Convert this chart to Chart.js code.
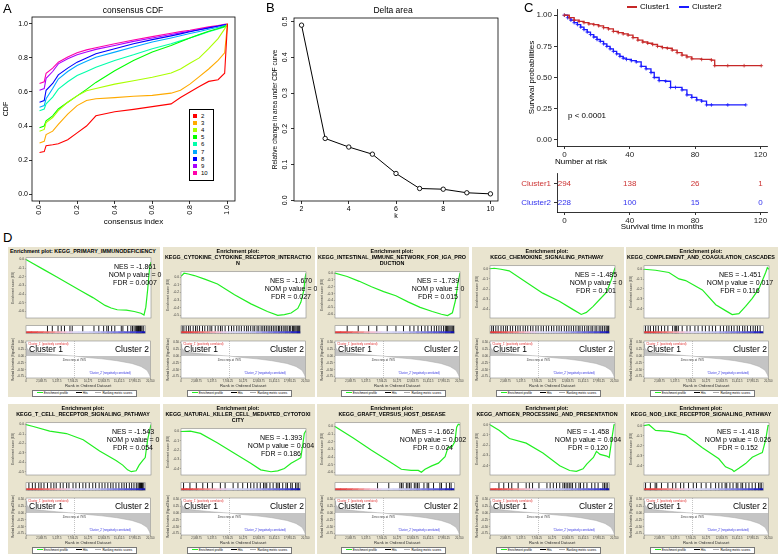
<!DOCTYPE html>
<html>
<head>
<meta charset="utf-8">
<title>Consensus clustering, survival and GSEA</title>
<script src="https://cdn.jsdelivr.net/npm/chart.js@4.4.1/dist/chart.umd.min.js"></script>
<style>
  body { margin: 0; width: 778px; height: 555px; position: relative; overflow: hidden; background: #fff;
         font-family: "Liberation Sans", Arial, sans-serif; color: #000; }
  .t { position: absolute; white-space: nowrap; line-height: 1; }
  .gs { position: absolute; background: #e9e4cf; }
  .gt { position: absolute; width: 152px; text-align: center; font-size: 5.4px; font-weight: bold; line-height: 6px; white-space: nowrap; }
  .lg { position: absolute; background: #fff; border: 0.5px solid #777; display: flex; align-items: center;
        justify-content: space-around; font-size: 3px; line-height: 1; white-space: nowrap; }
  .lg i { display: inline-block; width: 6px; height: 0; border-top: 0.8px solid; vertical-align: middle; margin-right: 1px; }
  canvas { position: absolute; }
</style>
</head>
<body>
<script>
// A: consensus CDF
const cdfIndex = [0, 0.025, 0.035, 0.07, 0.1, 0.15, 0.2, 0.25, 0.3, 0.4, 0.5, 0.6, 0.7, 0.75, 0.8, 0.85, 0.9, 0.95, 0.985, 1.0];
const cdfK = ['2', '3', '4', '5', '6', '7', '8', '9', '10'];
const cdf2 = [0.245,0.25,0.285,0.29,0.296,0.32,0.36,0.40,0.46,0.484,0.498,0.514,0.53,0.567,0.6,0.632,0.662,0.672,0.71,1.0];
const cdf3 = [0.30,0.31,0.35,0.37,0.41,0.47,0.52,0.55,0.56,0.567,0.575,0.58,0.593,0.61,0.646,0.69,0.735,0.785,0.83,1.0];
const cdf4 = [0.37,0.38,0.42,0.45,0.49,0.54,0.577,0.607,0.62,0.646,0.666,0.686,0.711,0.735,0.769,0.80,0.854,0.913,0.97,1.0];
const cdf5 = [0.39,0.40,0.43,0.46,0.50,0.54,0.577,0.615,0.656,0.725,0.785,0.834,0.873,0.895,0.917,0.937,0.956,0.972,0.985,0.99];
const cdf6 = [0.49,0.50,0.53,0.57,0.617,0.66,0.696,0.72,0.745,0.785,0.818,0.854,0.883,0.9,0.917,0.935,0.953,0.97,0.982,0.986];
const cdf7 = [0.51,0.52,0.56,0.62,0.676,0.72,0.755,0.78,0.804,0.834,0.864,0.893,0.917,0.93,0.943,0.955,0.968,0.98,0.99,0.992];
const cdf8 = [0.54,0.55,0.61,0.65,0.70,0.74,0.775,0.80,0.824,0.854,0.883,0.907,0.929,0.941,0.953,0.965,0.976,0.987,0.994,0.996];
const cdf9 = [0.61,0.62,0.68,0.72,0.765,0.795,0.818,0.835,0.85,0.873,0.897,0.917,0.937,0.947,0.956,0.966,0.976,0.986,0.994,0.996];
const cdf10 = [0.65,0.66,0.71,0.74,0.775,0.805,0.83,0.847,0.86,0.883,0.905,0.925,0.945,0.954,0.962,0.972,0.982,0.99,0.997,1.0];
const cdfColors = ['#ff0000','#ffaa00','#aaff00','#00ff00','#00ffaa','#00aaff','#0000ff','#aa00ff','#ff00aa'];

// B: delta area
const deltaK = [2, 3, 4, 5, 6, 7, 8, 9, 10];
const deltaArea = [0.49, 0.173, 0.149, 0.129, 0.075, 0.033, 0.031, 0.021, 0.018];

// C: survival
const kmTime1 = [0,3,6,9,12,15,18,21,24,27,30,33,36,39,42,45,48,51,54,57,60,63,66,69,72,75,78,84,90,92,100,110,120.5];
const kmSurv1 = [1,0.98,0.96,0.95,0.94,0.93,0.925,0.915,0.90,0.89,0.87,0.86,0.85,0.84,0.82,0.80,0.785,0.775,0.765,0.75,0.74,0.735,0.72,0.70,0.68,0.665,0.65,0.645,0.64,0.595,0.595,0.595,0.595];
const kmTime2 = [0,2,4,6,8,10,12,14,16,18,20,22,24,26,28,30,32,34,36,38,41,44,47,50,53,55,58,62,65,68,72,75,78,81,84,87,90,100,111];
const kmSurv2 = [1,0.98,0.96,0.94,0.925,0.905,0.885,0.865,0.845,0.825,0.805,0.79,0.77,0.75,0.73,0.71,0.69,0.67,0.655,0.645,0.635,0.625,0.59,0.57,0.54,0.50,0.475,0.47,0.42,0.42,0.40,0.36,0.34,0.32,0.31,0.28,0.28,0.28,0.28];
const riskTimes = [0, 40, 80, 120];
const riskCluster1 = [294, 138, 26, 1];
const riskCluster2 = [228, 100, 15, 0];

// D: GSEA (ranks in thousands)
const gsTitles = [
  ['Enrichment plot: KEGG_PRIMARY_IMMUNODEFICIENCY'],
  ['Enrichment plot:', 'KEGG_CYTOKINE_CYTOKINE_RECEPTOR_INTERACTIO', 'N'],
  ['Enrichment plot:', 'KEGG_INTESTINAL_IMMUNE_NETWORK_FOR_IGA_PRO', 'DUCTION'],
  ['Enrichment plot:', 'KEGG_CHEMOKINE_SIGNALING_PATHWAY'],
  ['Enrichment plot:', 'KEGG_COMPLEMENT_AND_COAGULATION_CASCADES'],
  ['Enrichment plot:', 'KEGG_T_CELL_RECEPTOR_SIGNALING_PATHWAY'],
  ['Enrichment plot:', 'KEGG_NATURAL_KILLER_CELL_MEDIATED_CYTOTOXI', 'CITY'],
  ['Enrichment plot:', 'KEGG_GRAFT_VERSUS_HOST_DISEASE'],
  ['Enrichment plot:', 'KEGG_ANTIGEN_PROCESSING_AND_PRESENTATION'],
  ['Enrichment plot:', 'KEGG_NOD_LIKE_RECEPTOR_SIGNALING_PATHWAY']
];
const gsNES = ['-1.861','-1.670','-1.739','-1.485','-1.451','-1.543','-1.393','-1.662','-1.458','-1.418'];
const gsNomP = ['0','0','0','0','0.017','0','0.004','0.002','0.004','0.026'];
const gsFDR = ['0.0007','0.027','0.015','0.101','0.116','0.054','0.186','0.024','0.120','0.152'];

const esRank1 = [0,1,3,5,7,9,11,13,14,15,16.5,17.8,18.9,19.4,19.7,20.0,20.3,20.55];
const esScore1 = [0,-0.04,-0.12,-0.2,-0.28,-0.36,-0.44,-0.53,-0.56,-0.58,-0.585,-0.6,-0.62,-0.64,-0.55,-0.35,-0.11,-0.03];
const esRank2 = [0,0.5,1.2,2.2,4,6,8.8,11.5,14.2,15.9,17,18.1,19.2,19.7,20.2,20.4,20.55];
const esScore2 = [0.01,0.05,0.04,0.02,-0.03,-0.09,-0.23,-0.35,-0.45,-0.5,-0.49,-0.47,-0.41,-0.33,-0.17,-0.01,0.05];
const esRank3 = [0,2,4,6,8,10,12,14,16,17.5,18.5,19.3,19.8,20.2,20.55];
const esScore3 = [0,-0.05,-0.12,-0.2,-0.27,-0.33,-0.42,-0.5,-0.56,-0.6,-0.62,-0.58,-0.4,-0.15,0.0];
const esRank4 = [0,0.7,1.8,3.15,5.9,8.67,11.4,13.6,14.75,15.0,15.85,16.96,18.06,19.17,20.0,20.55];
const esScore4 = [0,0.005,-0.005,-0.02,-0.13,-0.24,-0.32,-0.40,-0.44,-0.45,-0.43,-0.37,-0.30,-0.23,-0.10,0.01];
const esRank5 = [0,1.9,4.1,5.75,6.85,9.6,11.8,13.4,14.5,15.6,16.7,17.8,18.9,20.0,20.28,20.55];
const esScore5 = [0,-0.01,-0.033,-0.098,-0.115,-0.21,-0.36,-0.42,-0.46,-0.45,-0.377,-0.295,-0.197,-0.033,0.016,0.0];
const esRank6 = [0,1.2,3.9,6.65,9.4,12.1,14.8,15.9,16.7,17.3,18.1,18.6,19.2,19.6,20.0,20.4,20.55];
const esScore6 = [0,-0.02,-0.07,-0.095,-0.16,-0.28,-0.38,-0.43,-0.48,-0.5,-0.49,-0.43,-0.38,-0.35,-0.16,-0.04,0.0];
const esRank7 = [0,1.54,3.2,5.95,8.7,11.46,13.1,14.8,15.9,17.0,18.1,19.2,19.7,20.0,20.27,20.55];
const esScore7 = [0,0.005,-0.02,-0.12,-0.23,-0.34,-0.41,-0.43,-0.42,-0.395,-0.34,-0.3,-0.28,-0.15,-0.02,0.01];
const esRank8 = [0,3,6,9,10.9,12.5,13.7,14.2,14.8,15.9,17.0,18.1,18.6,19.2,19.7,20.0,20.27,20.55];
const esScore8 = [0,-0.15,-0.31,-0.46,-0.56,-0.575,-0.575,-0.6,-0.56,-0.515,-0.48,-0.395,-0.27,-0.27,-0.2,-0.01,0.03,0.02];
const esRank9 = [0,1.54,3.2,5.95,8.7,11.46,13.1,14.2,15.3,15.9,17.0,17.5,18.1,19.2,19.6,20.0,20.38,20.55];
const esScore9 = [0,-0.056,-0.134,-0.18,-0.275,-0.4,-0.447,-0.456,-0.43,-0.384,-0.32,-0.26,-0.29,-0.306,-0.32,-0.15,0.0,0.0];
const esRank10 = [0,0.82,1.9,4.1,6.85,9.6,12.3,13.4,14.5,14.8,15.6,16.7,17.8,18.9,19.45,20.0,20.39,20.55];
const esScore10 = [0,0.01,-0.047,-0.057,-0.094,-0.22,-0.33,-0.41,-0.44,-0.457,-0.425,-0.378,-0.315,-0.283,-0.268,-0.142,0.0,0.0];

const hits1 = [3.70,4.53,5.52,6.08,6.63,7.57,7.96,9.78,11.71,12.54,13.37,13.92,14.2,14.75,15.3,16.41,16.69,17.51,18.07,18.34,18.62,18.9,19.06,19.17,19.28,19.39,19.5,19.61,19.72,19.83,20.0,20.28];
const hits2 = [0.2,0.5,0.9,1.3,1.6,2.1,2.5,2.8,3.2,3.7,4.1,4.6,5.0,5.3,5.9,6.4,6.8,7.1,7.6,8.2,8.7,9.1,9.6,10.0,10.4,10.9,11.3,11.6,12.0,12.4,12.7,13.1,13.4,13.8,14.1,14.4,14.7,15.0,15.3,15.6,15.9,16.2,16.5,16.8,17.0,17.3,17.6,17.9,18.1,18.4,18.7,18.9,19.2,19.4,19.6,19.8,20.0,20.15,20.3,20.45];
const hits3 = [2.1,4.0,5.8,7.2,9.0,10.5,11.8,12.9,13.6,14.3,14.9,15.5,16.0,16.6,17.1,17.5,17.9,18.3,18.7,19.0,19.2,19.4,19.6,19.8,20.0,20.2,20.4];
const hits4 = [0.3,0.6,1.0,1.4,1.9,2.3,2.7,3.0,3.5,3.9,4.4,4.8,5.2,5.7,6.1,6.5,7.0,7.4,7.9,8.3,8.8,9.2,9.7,10.1,10.6,11.0,11.5,11.9,12.3,12.8,13.2,13.6,14.0,14.4,14.8,15.2,15.5,15.9,16.3,16.7,17.0,17.4,17.7,18.1,18.4,18.8,19.1,19.4,19.7,20.0,20.2,20.4];
const hits5 = [0.27,0.71,1.10,1.64,2.03,2.47,3.01,3.56,4.11,4.93,5.32,5.48,5.64,5.92,6.58,7.40,7.95,8.77,9.32,10.03,10.58,11.23,11.78,12.33,13.15,13.70,14.25,14.63,15.07,15.51,16.06,16.44,16.99,17.37,17.81,18.36,18.80,19.18,19.56,20.0];
const hits6 = [0.5,1.1,1.6,2.2,2.6,3.1,3.7,4.3,4.8,5.2,5.9,6.4,7.0,7.4,8.1,8.6,9.2,9.8,10.3,10.9,11.5,12.0,12.6,13.1,13.6,14.1,14.6,15.0,15.5,16.0,16.5,16.9,17.3,17.8,18.2,18.6,19.0,19.3,19.5,19.6,19.7,19.8,19.9,20.0,20.1,20.3];
const hits7 = [0.44,1.54,2.64,3.75,4.57,5.40,6.78,7.60,8.98,9.81,10.63,11.46,12.01,12.56,13.11,13.66,14.22,14.49,14.77,15.32,15.87,16.42,16.70,16.97,17.52,18.07,18.35,18.90,19.17,19.73,20.0,20.28];
const hits8 = [7.33,9.26,11.18,11.46,11.73,12.29,12.56,12.84,13.11,13.66,13.94,14.21,14.49,15.32,15.87,16.14,16.97,18.07,18.35,19.17,19.72,20.0];
const hits9 = [1.54,2.37,3.20,3.75,4.85,6.23,6.78,7.33,8.43,9.81,10.36,10.91,11.46,12.01,12.56,12.84,13.11,13.39,13.66,13.94,14.22,14.77,15.32,15.59,16.14,16.70,17.52,18.07,18.62,19.45,19.73,20.0,20.28];
const hits10 = [0.27,1.10,1.92,2.19,3.01,4.11,4.93,5.48,6.30,6.85,7.67,8.49,9.04,9.86,10.69,11.51,12.33,12.88,13.43,13.98,14.25,14.80,15.34,15.89,16.17,16.71,16.99,17.54,18.08,18.63,19.18,19.73,20.0,20.28];

const rankedPos = [0,0.1,0.5,1.5,3,5,7,7.97,10,12.5,15,17.5,19,20,20.4,20.55];
const rankedMetric = [0.45,0.3,0.2,0.13,0.09,0.05,0.015,0,-0.05,-0.1,-0.17,-0.27,-0.38,-0.52,-0.68,-0.78];
const zeroCross = 7.97;
const barCenters = [0.5,1.5,2.5,3.5,4.5,5.5,6.5,7.5,8.5,9.5,10.5,11.5,12.5,13.5,14.5,15.5,16.5,17.5,18.5,19.5,20.5];
const barColors = ['#e33b3b','#e54545','#e85858','#ec7272','#ef8d8d','#f2a9b4','#f1bfd3','#e4cbeb','#dcd6f3','#d6d6f4','#d0d0f3','#c9c9f1','#bdbdef','#a9a9eb','#9494e7','#8080e3','#6d6dde','#5a5ad9','#4646d2','#2a2ac6','#1212ae'];

const RANK_MAX = 20550;
const RED = '#c62828', BLUE = '#1a1aff';

Chart.defaults.font.family = '"Liberation Sans", Arial, sans-serif';
Chart.defaults.color = '#000';

// fills / outlines the plot area
const framePlugin = {
  id: 'frame',
  beforeDraw(chart, args, o) {
    if (!o || !o.fill) return;
    const a = chart.chartArea, ctx = chart.ctx;
    ctx.save(); ctx.fillStyle = o.fill;
    ctx.fillRect(a.left, a.top, a.right - a.left, a.bottom - a.top);
    ctx.restore();
  },
  afterDraw(chart, args, o) {
    if (!o || !o.stroke) return;
    const a = chart.chartArea, ctx = chart.ctx;
    ctx.save(); ctx.strokeStyle = o.stroke; ctx.lineWidth = o.width || 1;
    ctx.strokeRect(a.left, a.top, a.right - a.left, a.bottom - a.top);
    ctx.restore();
  }
};

// writes the numbers at risk at each point of the table
const riskPlugin = {
  id: 'riskText',
  afterDatasetsDraw(chart) {
    const ctx = chart.ctx;
    ctx.save();
    ctx.font = '8px "Liberation Sans", Arial, sans-serif';
    ctx.textAlign = 'center'; ctx.textBaseline = 'middle';
    chart.data.datasets.forEach((ds, i) => {
      ctx.fillStyle = ds.textColor;
      chart.getDatasetMeta(i).data.forEach((pt, j) => ctx.fillText(String(ds.data[j].n), pt.x, pt.y));
    });
    ctx.restore();
  }
};

function makeCanvas(x, y, w, h, m) {
  const c = document.createElement('canvas');
  const cw = m.l + w + m.r, ch = m.t + h + m.b;
  c.width = cw; c.height = ch;
  c.style.left = (x - m.l) + 'px'; c.style.top = (y - m.t) + 'px';
  c.style.width = cw + 'px'; c.style.height = ch + 'px';
  document.body.appendChild(c);
  return c;
}

function opts(o) {
  const plugins = Object.assign({ legend: { display: false }, tooltip: { enabled: false } }, o.plugins || {});
  return Object.assign({ responsive: false, animation: false, events: [] }, o, { plugins });
}

function txt(s, x, y, css, anchor) {
  const d = document.createElement('div');
  d.className = 't';
  d.textContent = s;
  const tr = anchor === 'l' ? 'translate(0,-50%)' : anchor === 'r' ? 'translate(-100%,-50%)' : 'translate(-50%,-50%)';
  d.style.cssText = 'left:' + x + 'px;top:' + y + 'px;transform:' + tr + ';' + (css || '');
  document.body.appendChild(d);
  return d;
}

const rTicks = { drawOnChartArea: false, tickLength: 3, color: '#000', lineWidth: 0.8 };

// ---------- A ----------
const cdfSeries = [cdf2, cdf3, cdf4, cdf5, cdf6, cdf7, cdf8, cdf9, cdf10];
new Chart(makeCanvas(32, 17, 203, 184, { l: 32, t: 17, r: 8, b: 27 }), {
  type: 'scatter',
  data: {
    datasets: cdfSeries.map((s, i) => ({
      label: cdfK[i], data: cdfIndex.map((x, j) => ({ x, y: s[j] })),
      showLine: true, borderColor: cdfColors[i], borderWidth: 1.1, pointRadius: 0
    }))
  },
  options: opts({
    layout: { padding: { top: 17, right: 8, left: 0, bottom: 0 } },
    scales: {
      x: { min: -0.04, max: 1.04, afterFit: s => { s.height = 27; },
           ticks: { stepSize: 0.2, includeBounds: false, minRotation: 90, maxRotation: 90, padding: 1, font: { size: 7 }, callback: v => v.toFixed(1) },
           grid: rTicks, border: { display: false },
           title: { display: true, text: 'consensus index', font: { size: 8 }, padding: { top: 0, bottom: 1 } } },
      y: { min: -0.04, max: 1.04, afterFit: s => { s.width = 32; },
           ticks: { stepSize: 0.2, includeBounds: false, padding: 1, font: { size: 7 }, callback: v => v.toFixed(1) },
           grid: rTicks, border: { display: false },
           title: { display: true, text: 'CDF', font: { size: 7 }, padding: { top: 2, bottom: 0 } } }
    },
    plugins: { frame: { stroke: '#000', width: 0.8 } }
  }),
  plugins: [framePlugin]
});
txt('A', 3, 8, 'font-size:13px', 'l');
txt('consensus CDF', 133, 9.5, 'font-size:8.5px');
const lgA = document.createElement('div');
lgA.style.cssText = 'position:absolute;left:189px;top:109px;width:23px;height:70px;border:0.8px solid #000;background:#fff';
document.body.appendChild(lgA);
cdfK.forEach((k, i) => {
  const y = 116 + i * 7.1;
  const sq = document.createElement('div');
  sq.style.cssText = 'position:absolute;left:193px;top:' + (y - 2) + 'px;width:4px;height:4px;background:' + cdfColors[i];
  document.body.appendChild(sq);
  txt(k, 201, y, 'font-size:6px', 'l');
});

// ---------- B ----------
new Chart(makeCanvas(294, 18, 204, 183, { l: 26, t: 6, r: 6, b: 21 }), {
  type: 'scatter',
  data: {
    datasets: [{
      data: deltaK.map((k, i) => ({ x: k, y: deltaArea[i] })), showLine: true,
      borderColor: '#000', borderWidth: 1, pointRadius: 2.2, pointBackgroundColor: '#fff', pointBorderColor: '#000', pointBorderWidth: 0.9
    }]
  },
  options: opts({
    layout: { padding: { top: 6, right: 6, left: 0, bottom: 0 } },
    scales: {
      x: { min: 1.68, max: 10.32, afterFit: s => { s.height = 21; },
           ticks: { stepSize: 2, includeBounds: false, padding: 1, font: { size: 7 } },
           grid: rTicks, border: { display: false },
           title: { display: true, text: 'k', font: { size: 7 }, padding: { top: 0, bottom: 2 } } },
      y: { min: -0.002, max: 0.51, afterFit: s => { s.width = 26; },
           ticks: { stepSize: 0.1, includeBounds: false, minRotation: 90, maxRotation: 90, crossAlign: 'center', padding: 1, font: { size: 7 }, callback: v => v.toFixed(1) },
           grid: rTicks, border: { display: false },
           title: { display: true, text: 'Relative change in area under CDF curve', font: { size: 6.5 }, padding: { top: 3, bottom: 0 } } }
    },
    plugins: { frame: { stroke: '#000', width: 0.8 } }
  }),
  plugins: [framePlugin]
});
txt('B', 266, 7, 'font-size:13px', 'l');
txt('Delta area', 393, 9.5, 'font-size:8.5px');

// ---------- C ----------
const kmAxis = { grid: { drawOnChartArea: false, tickLength: 3, color: '#000', lineWidth: 0.8 }, border: { color: '#000', width: 0.8 } };
new Chart(makeCanvas(557, 9, 210, 137, { l: 37, t: 9, r: 11, b: 14 }), {
  type: 'scatter',
  data: {
    datasets: [
      { label: 'Cluster1', data: kmTime1.map((t, i) => ({ x: t, y: kmSurv1[i] })), showLine: true, stepped: true,
        borderColor: RED, borderWidth: 1.3, pointStyle: 'cross', pointRadius: 1.8, pointBorderWidth: 0.8 },
      { label: 'Cluster2', data: kmTime2.map((t, i) => ({ x: t, y: kmSurv2[i] })), showLine: true, stepped: true,
        borderColor: BLUE, borderWidth: 1.3, pointStyle: 'cross', pointRadius: 1.8, pointBorderWidth: 0.8 }
    ]
  },
  options: opts({
    layout: { padding: { top: 9, right: 11, left: 0, bottom: 0 } },
    scales: {
      x: Object.assign({ min: -4.5, max: 124, afterFit: s => { s.height = 14; },
           ticks: { stepSize: 40, includeBounds: false, padding: 1, font: { size: 8 }, color: '#222' } }, kmAxis),
      y: Object.assign({ min: -0.05, max: 1.05, afterFit: s => { s.width = 37; },
           ticks: { stepSize: 0.25, includeBounds: false, padding: 2, font: { size: 8 }, color: '#222', callback: v => v.toFixed(2) },
           title: { display: true, text: 'Survival probabilities', font: { size: 8 }, padding: { top: 7, bottom: 0 } } }, kmAxis)
    }
  })
});
new Chart(makeCanvas(557, 168, 210, 44, { l: 67, t: 2, r: 11, b: 21 }), {
  type: 'scatter',
  data: {
    datasets: [
      { data: riskTimes.map((t, j) => ({ x: t, y: 'Cluster1', n: riskCluster1[j] })), pointRadius: 0, textColor: '#cc3333' },
      { data: riskTimes.map((t, j) => ({ x: t, y: 'Cluster2', n: riskCluster2[j] })), pointRadius: 0, textColor: '#3333ee' }
    ]
  },
  options: opts({
    layout: { padding: { top: 2, right: 11, left: 0, bottom: 0 } },
    scales: {
      x: Object.assign({ min: -4.5, max: 124, afterFit: s => { s.height = 21; },
           ticks: { stepSize: 40, includeBounds: false, padding: 1, font: { size: 8 }, color: '#222' },
           title: { display: true, text: 'Survival time in months', font: { size: 8 }, padding: { top: 0, bottom: 1 } } }, kmAxis),
      y: Object.assign({ type: 'category', labels: ['Cluster1', 'Cluster2'], offset: true, afterFit: s => { s.width = 67; },
           ticks: { padding: 3, font: { size: 8 }, color: c => c.index === 0 ? '#cc3333' : '#3333ee' } }, kmAxis)
    }
  }),
  plugins: [riskPlugin]
});
txt('C', 524, 7, 'font-size:13px', 'l');
txt('p < 0.0001', 568, 116, 'font-size:8px', 'l');
txt('Number at risk', 555, 162, 'font-size:8px', 'l');
[['Cluster1', RED, 627], ['Cluster2', BLUE, 679]].forEach(([name, col, x]) => {
  const sw = document.createElement('div');
  sw.style.cssText = 'position:absolute;left:' + x + 'px;top:5.5px;width:10px;height:2.5px;background:' + col;
  document.body.appendChild(sw);
  txt(name, x + 13, 7, 'font-size:8px', 'l');
});

// ---------- D ----------
txt('D', 3, 237, 'font-size:13px', 'l');
const esRanks = [esRank1, esRank2, esRank3, esRank4, esRank5, esRank6, esRank7, esRank8, esRank9, esRank10];
const esScores = [esScore1, esScore2, esScore3, esScore4, esScore5, esScore6, esScore7, esScore8, esScore9, esScore10];
const hitSets = [hits1, hits2, hits3, hits4, hits5, hits6, hits7, hits8, hits9, hits10];
const nesOffset = [109, 110, 103, 106, 96, 107, 100, 98, 98, 94];
const tiny = { drawOnChartArea: false, tickLength: 1.2, color: '#555', lineWidth: 0.4 };

for (let i = 0; i < 10; i++) {
  const row = Math.floor(i / 5), col = i % 5;
  const L = Math.round(8 + col * 154.5), T = row * 157;
  const bg = document.createElement('div');
  bg.className = 'gs';
  bg.style.cssText = 'left:' + L + 'px;top:' + (T + 247) + 'px;width:152px;height:150px';
  document.body.appendChild(bg);

  const lines = gsTitles[i];
  const tt = document.createElement('div');
  tt.className = 'gt';
  tt.style.left = (L - 1) + 'px'; tt.style.top = (T + 248) + 'px';
  tt.innerHTML = lines.join('<br>');
  document.body.appendChild(tt);
  const esTop = T + [0, 257, 265, 271][lines.length];
  const esBot = T + 318;

  // running enrichment score
  const sc = esScores[i];
  new Chart(makeCanvas(L + 18, esTop, 125, esBot - esTop, { l: 18, t: 2.5, r: 4, b: 4 }), {
    type: 'scatter',
    data: { datasets: [{ data: esRanks[i].map((r, j) => ({ x: r * 1000, y: sc[j] })), showLine: true, borderColor: '#22ee22', borderWidth: 1.2, pointRadius: 0 }] },
    options: opts({
      layout: { padding: { top: 2.5, right: 4, left: 0, bottom: 4 } },
      scales: {
        x: { type: 'linear', display: false, min: 0, max: RANK_MAX },
        y: { min: Math.min(...sc) - 0.035, max: Math.max(...sc) + 0.02, afterFit: s => { s.width = 18; },
             ticks: { stepSize: 0.1, includeBounds: false, padding: 0.8, font: { size: 3.2 }, color: '#333', callback: v => v.toFixed(1) },
             grid: tiny, border: { display: false },
             title: { display: true, text: 'Enrichment score (ES)', font: { size: 3.2 }, color: '#333', padding: { top: 3, bottom: 0 } } }
      },
      plugins: { frame: { fill: '#fff', stroke: '#8a8a8a', width: 0.6 } }
    }),
    plugins: [framePlugin]
  });

  // hits + ranked list colour bar
  new Chart(makeCanvas(L + 18, esBot, 125, 23, { l: 18, t: 2, r: 4, b: 2 }), {
    type: 'scatter',
    data: {
      datasets: [
        { type: 'bar', data: barCenters.map(r => ({ x: r * 1000, y: [0, 5] })), backgroundColor: barColors,
          barPercentage: 1, categoryPercentage: 1, borderWidth: 0 },
        { data: hitSets[i].map(r => ({ x: r * 1000, y: 14 })), pointStyle: 'line', pointRotation: 90, pointRadius: 8.8,
          borderColor: '#000', pointBorderColor: '#000', pointBorderWidth: 0.9 }
      ]
    },
    options: opts({
      layout: { padding: { top: 2, right: 4, left: 18, bottom: 2 } },
      scales: {
        x: { type: 'linear', display: false, min: 0, max: RANK_MAX, offset: false },
        y: { display: false, min: 0, max: 23 }
      },
      plugins: { frame: { fill: '#fff', stroke: '#8a8a8a', width: 0.6 } }
    }),
    plugins: [framePlugin]
  });

  // ranked list metric
  new Chart(makeCanvas(L + 18, T + 341, 125, 37, { l: 18, t: 3, r: 4, b: 11 }), {
    type: 'scatter',
    data: {
      datasets: [
        { data: rankedPos.map((r, j) => ({ x: r * 1000, y: rankedMetric[j] })), showLine: true, fill: 'origin',
          backgroundColor: '#c4c4c4', borderColor: '#a8a8a8', borderWidth: 0.5, pointRadius: 0 },
        { data: [{ x: zeroCross * 1000, y: -0.8 }, { x: zeroCross * 1000, y: 0.55 }], showLine: true,
          borderColor: '#888', borderDash: [1, 1], borderWidth: 0.5, pointRadius: 0 }
      ]
    },
    options: opts({
      layout: { padding: { top: 3, right: 4, left: 0, bottom: 0 } },
      scales: {
        x: { type: 'linear', min: 0, max: RANK_MAX, afterFit: s => { s.height = 11; },
             ticks: { stepSize: 2500, includeBounds: false, autoSkip: false, maxRotation: 0, padding: 0.5, font: { size: 2.7 }, color: '#333',
                      callback: v => v.toLocaleString('en-US') },
             grid: tiny, border: { display: false },
             title: { display: true, text: 'Rank in Ordered Dataset', font: { size: 4.2 }, color: '#333', padding: { top: 0, bottom: 0.5 } } },
        y: { min: -0.8, max: 0.55, afterFit: s => { s.width = 18; },
             ticks: { stepSize: 0.25, includeBounds: false, padding: 0.8, font: { size: 3 }, color: '#333', callback: v => v.toFixed(2) },
             grid: tiny, border: { display: false },
             title: { display: true, text: 'Ranked list metric (Signal2Noise)', font: { size: 2.9 }, color: '#333', padding: { top: 3, bottom: 0 } } }
      },
      plugins: { frame: { fill: '#fff', stroke: '#8a8a8a', width: 0.6 } }
    }),
    plugins: [framePlugin]
  });

  const cx = L + 18 + nesOffset[i];
  txt('NES = ' + gsNES[i], cx, esTop + 9, 'font-size:7px');
  txt('NOM p value = ' + gsNomP[i], cx, esTop + 17, 'font-size:7px');
  txt('FDR = ' + gsFDR[i], cx, esTop + 25, 'font-size:7px');

  txt("'Cluster_1' (positively correlated)", L + 20, T + 343.5, 'font-size:2.8px;color:#e03030', 'l');
  txt('Cluster 1', L + 21, T + 349, 'font-size:8.5px', 'l');
  txt('Cluster 2', L + 141, T + 349, 'font-size:8.5px', 'r');
  txt('Zero cross at 7970', L + 18 + zeroCross * 1000 / RANK_MAX * 125, T + 359.5, 'font-size:2.8px;color:#333');
  txt("'Cluster_2' (negatively correlated)", L + 102, T + 373, 'font-size:2.8px;color:#3030e0');

  const lg = document.createElement('div');
  lg.className = 'lg';
  lg.style.left = (L + 24) + 'px'; lg.style.top = (T + 389.5) + 'px';
  lg.style.width = '103px'; lg.style.height = '5px';
  lg.innerHTML = '<span><i style="color:#22ee22"></i>Enrichment profile</span><span><i style="color:#000"></i>Hits</span><span><i style="color:#aaa"></i>Ranking metric scores</span>';
  document.body.appendChild(lg);
}
</script>
</body>
</html>
